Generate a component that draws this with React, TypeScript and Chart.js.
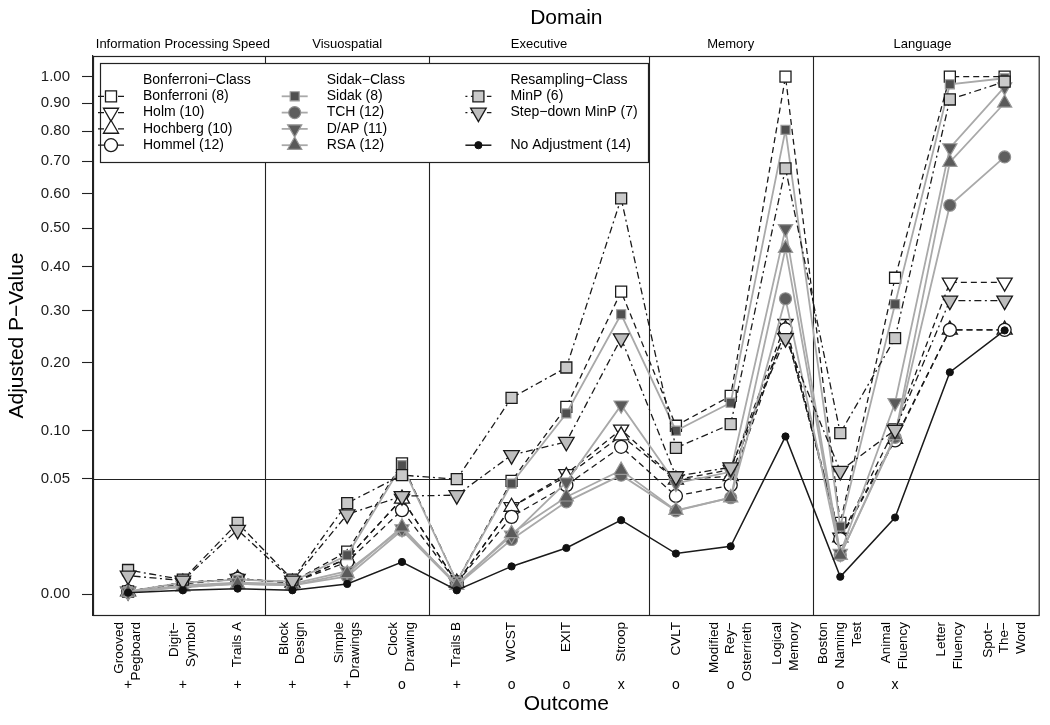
import React, { useEffect, useRef } from "react";
import { Chart, registerables } from "chart.js";
Chart.register(...registerables);

// ---------- data ----------
const outcomes: string[][] = [
  ["Grooved", "Pegboard"], ["Digit−", "Symbol"], ["Trails A"], ["Block", "Design"],
  ["Simple", "Drawings"], ["Clock", "Drawing"], ["Trails B"], ["WCST"], ["EXIT"], ["Stroop"],
  ["CVLT"], ["Modified", "Rey−", "Osterrieth"], ["Logical", "Memory"], ["Boston", "Naming", "Test"],
  ["Animal", "Fluency"], ["Letter", "Fluency"], ["Spot−", "The−", "Word"],
];
const outcomeMarks = ["+", "+", "+", "+", "+", "o", "+", "o", "o", "x", "o", "o", "", "o", "x", "", ""];
const domains = ["Information Processing Speed", "Visuospatial", "Executive", "Memory", "Language"];
const domainFirst = [1, 4, 7, 11, 14];
const domainLast = [3, 6, 10, 13, 17];
const yTickValues = [0, 0.05, 0.1, 0.2, 0.3, 0.4, 0.5, 0.6, 0.7, 0.8, 0.9, 1.0];
const alphaLine = 0.05;

const bonferroni = [0.00003, 0.0005, 0.0008, 0.0006, 0.0068, 0.064, 0.0006, 0.048, 0.131, 0.342, 0.106, 0.147, 1.0, 0.019, 0.374, 1.0, 1.0];
const holm = [0.00003, 0.0005, 0.0009, 0.0005, 0.0048, 0.034, 0.0005, 0.0285, 0.054, 0.1015, 0.049, 0.058, 0.273, 0.012, 0.103, 0.363, 0.363];
const hochberg = [0.00003, 0.0005, 0.0009, 0.0005, 0.0048, 0.034, 0.0005, 0.0285, 0.052, 0.094, 0.049, 0.052, 0.262, 0.012, 0.090, 0.261, 0.261];
const hommel = [0.00003, 0.0004, 0.0009, 0.0005, 0.0039, 0.0264, 0.0005, 0.0224, 0.0444, 0.0812, 0.0361, 0.0444, 0.262, 0.0114, 0.0884, 0.261, 0.261];
const sidak = [0.00003, 0.0005, 0.0008, 0.0006, 0.0057, 0.0623, 0.0006, 0.0458, 0.1221, 0.2927, 0.0999, 0.137, 0.805, 0.0171, 0.3144, 0.971, 0.994];
const tch = [0.00002, 0.0002, 0.0004, 0.0003, 0.0012, 0.0153, 0.0003, 0.0112, 0.0319, 0.053, 0.026, 0.0348, 0.326, 0.0057, 0.092, 0.565, 0.714];
const dap = [0.00002, 0.0003, 0.0005, 0.0004, 0.0020, 0.016, 0.0004, 0.013, 0.047, 0.1336, 0.046, 0.056, 0.499, 0.0062, 0.137, 0.744, 0.961];
const rsa = [0.00002, 0.0002, 0.0004, 0.0003, 0.0016, 0.0169, 0.0003, 0.0138, 0.0354, 0.0575, 0.0263, 0.0348, 0.4466, 0.0057, 0.094, 0.697, 0.901];
const minP = [0.0022, 0.0008, 0.019, 0.0008, 0.031, 0.053, 0.0495, 0.144, 0.192, 0.585, 0.080, 0.108, 0.677, 0.097, 0.245, 0.914, 0.981];
const stepDownMinP = [0.0013, 0.0007, 0.0155, 0.0007, 0.0238, 0.036, 0.0367, 0.0723, 0.0868, 0.2446, 0.052, 0.0602, 0.245, 0.0568, 0.101, 0.322, 0.322];
const noAdjustment = [0.00001, 0.00006, 0.00012, 0.00006, 0.0004, 0.0039, 0.00006, 0.0029, 0.008, 0.0205, 0.0062, 0.0086, 0.093, 0.00115, 0.022, 0.184, 0.26];

// ---------- styles ----------
const FONT = "'Liberation Sans', Arial, Helvetica, sans-serif";
const BLACK = "#1a1a1a";
const GRAYLINE = "#a9a9a9";
const DASH = [6, 4];
const DOTDASH = [2, 3.5, 7, 3.5];

type Series = {
  label: string; values: number[]; line: string; width: number; dash: number[];
  style: string; rot: number; r: number; fill: string; stroke: string; bw: number; order: number;
};

const series: Series[] = [
  { label: "Bonferroni (8)", values: bonferroni, line: BLACK, width: 1.3, dash: DASH, style: "rect", rot: 0, r: 7.8, fill: "#ffffff", stroke: BLACK, bw: 1.3, order: 11 },
  { label: "Holm (10)", values: holm, line: BLACK, width: 1.3, dash: DASH, style: "triangle", rot: 180, r: 8.7, fill: "#ffffff", stroke: BLACK, bw: 1.3, order: 10 },
  { label: "Hochberg (10)", values: hochberg, line: BLACK, width: 1.3, dash: DASH, style: "triangle", rot: 0, r: 8.7, fill: "#ffffff", stroke: BLACK, bw: 1.3, order: 9 },
  { label: "Hommel (12)", values: hommel, line: BLACK, width: 1.3, dash: DASH, style: "circle", rot: 0, r: 6.5, fill: "#ffffff", stroke: BLACK, bw: 1.3, order: 8 },
  { label: "Sidak (8)", values: sidak, line: GRAYLINE, width: 1.8, dash: [], style: "rect", rot: 0, r: 6.4, fill: "#4f4f4f", stroke: "#9a9a9a", bw: 1.2, order: 7 },
  { label: "TCH (12)", values: tch, line: GRAYLINE, width: 1.8, dash: [], style: "circle", rot: 0, r: 6, fill: "#5e5e5e", stroke: "#8f8f8f", bw: 1.2, order: 6 },
  { label: "D/AP (11)", values: dap, line: GRAYLINE, width: 1.8, dash: [], style: "triangle", rot: 180, r: 8.2, fill: "#5a5a5a", stroke: "#999999", bw: 1.2, order: 5 },
  { label: "RSA (12)", values: rsa, line: GRAYLINE, width: 1.8, dash: [], style: "triangle", rot: 0, r: 8.2, fill: "#5a5a5a", stroke: "#999999", bw: 1.2, order: 4 },
  { label: "MinP (6)", values: minP, line: BLACK, width: 1.3, dash: DOTDASH, style: "rect", rot: 0, r: 7.8, fill: "#c9c9c9", stroke: BLACK, bw: 1.3, order: 3 },
  { label: "Step−down MinP (7)", values: stepDownMinP, line: BLACK, width: 1.3, dash: DOTDASH, style: "triangle", rot: 180, r: 9, fill: "#bdbdbd", stroke: BLACK, bw: 1.3, order: 2 },
  { label: "No Adjustment (14)", values: noAdjustment, line: BLACK, width: 1.5, dash: [], style: "circle", rot: 0, r: 3.6, fill: "#111111", stroke: "#111111", bw: 1, order: 1 },
];

const legendColumns: { header: string; rows: (number | null)[] }[] = [
  { header: "Bonferroni−Class", rows: [0, 1, 2, 3] },
  { header: "Sidak−Class", rows: [4, 5, 6, 7] },
  { header: "Resampling−Class", rows: [8, 9, null, 10] },
];

function drawMarker(ctx: CanvasRenderingContext2D, s: Series, x: number, y: number) {
  ctx.beginPath();
  if (s.style === "circle") {
    ctx.arc(x, y, s.r, 0, Math.PI * 2);
  } else if (s.style === "rect") {
    const h = s.r * Math.SQRT1_2;
    ctx.rect(x - h, y - h, 2 * h, 2 * h);
  } else {
    let a = (s.rot * Math.PI) / 180;
    ctx.moveTo(x + Math.sin(a) * s.r, y - Math.cos(a) * s.r);
    a += (2 * Math.PI) / 3;
    ctx.lineTo(x + Math.sin(a) * s.r, y - Math.cos(a) * s.r);
    a += (2 * Math.PI) / 3;
    ctx.lineTo(x + Math.sin(a) * s.r, y - Math.cos(a) * s.r);
    ctx.closePath();
  }
  ctx.fillStyle = s.fill;
  ctx.fill();
  ctx.lineWidth = s.bw;
  ctx.strokeStyle = s.stroke;
  ctx.setLineDash([]);
  ctx.stroke();
}

const decorPlugin = {
  id: "decor",
  beforeDatasetsDraw(chart: any) {
    const { ctx, chartArea: ca, scales } = chart;
    const x = scales.x, y = scales.y;
    ctx.save();
    ctx.strokeStyle = "#222";
    ctx.lineWidth = 1.1;
    for (let i = 0; i < domains.length - 1; i++) {
      const px = Math.round(x.getPixelForValue((domainLast[i] + domainFirst[i + 1]) / 2)) + 0.5;
      ctx.beginPath(); ctx.moveTo(px, ca.top); ctx.lineTo(px, ca.bottom); ctx.stroke();
    }
    const py = Math.round(y.getPixelForValue(Math.sqrt(alphaLine))) + 0.5;
    ctx.beginPath(); ctx.moveTo(ca.left, py); ctx.lineTo(ca.right, py); ctx.stroke();
    ctx.restore();
  },
  afterDatasetsDraw(chart: any) {
    const { ctx, chartArea: ca } = chart;
    ctx.save();
    // plot frame
    ctx.strokeStyle = "#222";
    ctx.lineWidth = 1.2;
    ctx.strokeRect(ca.left + 0.5, ca.top + 0.5, ca.right - ca.left - 1, ca.bottom - ca.top);
    // legend
    const lx = ca.left + 7, ly = ca.top + 7, lw = 548, lh = 99;
    ctx.fillStyle = "#fff";
    ctx.fillRect(lx, ly, lw, lh);
    ctx.strokeStyle = "#222";
    ctx.lineWidth = 1.2;
    ctx.strokeRect(lx + 0.5, ly + 0.5, lw, lh);
    const rowY = [ly + 17, ly + 33.3, ly + 49.6, ly + 65.9, ly + 82.2];
    const colW = 183.7;
    ctx.font = `14px ${FONT}`;
    ctx.textBaseline = "middle";
    ctx.textAlign = "left";
    legendColumns.forEach((col, c) => {
      const sx = lx + 11 + c * colW;
      const tx = sx + 32;
      ctx.fillStyle = "#000";
      ctx.fillText(col.header, tx, rowY[0]);
      col.rows.forEach((si, r) => {
        if (si === null) return;
        const s = series[si];
        const yy = rowY[r + 1];
        ctx.strokeStyle = s.line;
        ctx.lineWidth = s.width;
        ctx.setLineDash(s.dash);
        ctx.beginPath(); ctx.moveTo(sx - 13, yy); ctx.lineTo(sx + 13, yy); ctx.stroke();
        ctx.setLineDash([]);
        drawMarker(ctx, s, sx, yy);
        ctx.fillStyle = "#000";
        ctx.fillText(s.label, tx, yy);
      });
    });
    ctx.restore();
  },
  afterDraw(chart: any) {
    const { ctx, chartArea: ca, scales } = chart;
    const x = scales.x;
    ctx.save();
    ctx.fillStyle = "#000";
    ctx.textAlign = "center";
    ctx.textBaseline = "middle";
    ctx.font = `21px ${FONT}`;
    ctx.fillText("Domain", (ca.left + ca.right) / 2, 18);
    ctx.font = `13px ${FONT}`;
    domains.forEach((d, i) => {
      ctx.fillText(d, x.getPixelForValue((domainFirst[i] + domainLast[i]) / 2), 44);
    });
    // outcome labels (rotated, right-aligned at the top)
    ctx.font = `13.5px ${FONT}`;
    const lineH = 16.6;
    outcomes.forEach((lines, i) => {
      const cx = x.getPixelForValue(i + 1);
      lines.forEach((t, k) => {
        const lxp = cx + (k - (lines.length - 1) / 2) * lineH;
        ctx.save();
        ctx.translate(lxp, ca.bottom + 7);
        ctx.rotate(-Math.PI / 2);
        ctx.textAlign = "right";
        ctx.textBaseline = "middle";
        ctx.fillText(t, 0, 0);
        ctx.restore();
      });
      if (outcomeMarks[i]) {
        ctx.textAlign = "center";
        ctx.textBaseline = "alphabetic";
        ctx.font = `14px ${FONT}`;
        ctx.fillText(outcomeMarks[i], cx, ca.bottom + 74);
        ctx.font = `13.5px ${FONT}`;
      }
    });
    ctx.restore();
  },
};

export default function App() {
  const ref = useRef<HTMLCanvasElement>(null);
  useEffect(() => {
    if (!ref.current) return;
    Chart.defaults.font.family = FONT;
    const datasets = series.map((s) => ({
      label: s.label,
      data: s.values.map((p, i) => ({ x: i + 1, y: Math.sqrt(p) })),
      borderColor: s.line,
      borderWidth: s.width,
      borderDash: s.dash,
      backgroundColor: s.fill,
      pointStyle: s.style,
      pointRadius: s.r,
      pointRotation: s.rot,
      pointBackgroundColor: s.fill,
      pointBorderColor: s.stroke,
      pointBorderWidth: s.bw,
      fill: false,
      tension: 0,
      order: s.order,
    }));
    const chart = new Chart(ref.current, {
      type: "line",
      data: { datasets },
      plugins: [decorPlugin],
      options: {
        animation: false,
        responsive: false,
        devicePixelRatio: 1,
        events: [],
        layout: { padding: { top: 56, right: 10, bottom: 0, left: 0 } },
        plugins: { legend: { display: false }, title: { display: false }, tooltip: { enabled: false } },
        scales: {
          x: {
            type: "linear",
            min: 0.36,
            max: 17.64,
            ticks: { display: false },
            grid: { display: false },
            border: { display: false },
            title: { display: true, text: "Outcome", color: "#000", font: { size: 21 }, padding: { top: 0, bottom: 8 } },
            afterFit: (s: any) => { s.height = 110; },
          },
          y: {
            type: "linear",
            min: -0.04,
            max: 1.04,
            afterBuildTicks: (s: any) => { s.ticks = yTickValues.map((v) => ({ value: Math.sqrt(v) })); },
            ticks: {
              autoSkip: false,
              color: "#1a1a1a",
              font: { size: 15 },
              padding: 12,
              callback: (v: any) => (Number(v) * Number(v)).toFixed(2),
            },
            grid: { drawOnChartArea: false, drawTicks: true, tickLength: 11, color: "#222", tickWidth: 1.1 },
            border: { display: true, color: "#222", width: 1.2 },
            title: { display: true, text: "Adjusted P−Value", color: "#000", font: { size: 21 }, padding: { top: 5, bottom: 0 } },
            afterFit: (s: any) => { s.width = 93; },
          },
        },
      } as any,
    });
    return () => chart.destroy();
  }, []);
  return (
    <div style={{ position: "fixed", left: 0, top: 0, width: 1050, height: 725, background: "#fff" }}>
      <canvas ref={ref} width={1050} height={725} style={{ width: 1050, height: 725, display: "block" }} />
    </div>
  );
}
